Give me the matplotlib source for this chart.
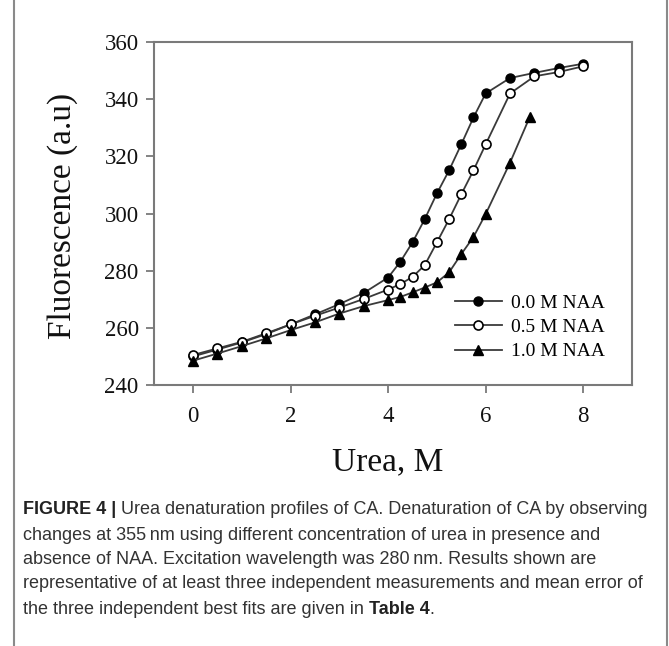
import matplotlib
matplotlib.use("Agg")
import matplotlib.pyplot as plt
from matplotlib.lines import Line2D

# ---- data ----
urea_0 = [0, 0.5, 1.0, 1.5, 2.0, 2.5, 3.0, 3.5, 4.0, 4.25, 4.5, 4.75, 5.0, 5.25, 5.5, 5.75, 6.0, 6.5, 7.0, 7.5, 8.0]
fl_0 = [250.0, 252.4, 254.9, 257.8, 261.2, 264.7, 268.3, 272.2, 277.6, 283.1, 289.9, 298.0, 307.0, 315.1, 324.2, 333.6, 342.0, 347.4, 349.2, 350.9, 352.4]

urea_05 = [0, 0.5, 1.0, 1.5, 2.0, 2.5, 3.0, 3.5, 4.0, 4.25, 4.5, 4.75, 5.0, 5.25, 5.5, 5.75, 6.0, 6.5, 7.0, 7.5, 8.0]
fl_05 = [250.5, 252.8, 255.1, 258.1, 261.2, 264.2, 267.1, 270.1, 273.4, 275.3, 277.8, 281.9, 289.9, 298.0, 306.7, 315.1, 324.2, 342.0, 348.0, 349.5, 351.5]

urea_10 = [0, 0.5, 1.0, 1.5, 2.0, 2.5, 3.0, 3.5, 4.0, 4.25, 4.5, 4.75, 5.0, 5.25, 5.5, 5.75, 6.0, 6.5, 6.9]
fl_10 = [248.5, 251.0, 253.6, 256.3, 259.2, 261.9, 265.0, 267.6, 269.7, 270.8, 272.4, 274.1, 275.9, 279.4, 285.8, 291.8, 299.8, 317.8, 333.6]

labels = ["0.0 M NAA", "0.5 M NAA", "1.0 M NAA"]
xticks = [0, 2, 4, 6, 8]
yticks = [240, 260, 280, 300, 320, 340, 360]
xlabel = "Urea, M"
ylabel = "Fluorescence (a.u)"
caption_bold = "FIGURE 4 |"
caption_lines = [
    " Urea denaturation profiles of CA. Denaturation of CA by observing",
    "changes at 355\u2009nm using different concentration of urea in presence and",
    "absence of NAA. Excitation wavelength was 280\u2009nm. Results shown are",
    "representative of at least three independent measurements and mean error of",
    "the three independent best fits are given in ",
]
caption_end_bold = "Table 4"

W, H = 669, 646
fig = plt.figure(figsize=(W / 100, H / 100), dpi=100)
serif = ["Liberation Serif", "DejaVu Serif"]
sans = ["Liberation Sans Narrow", "Liberation Sans", "DejaVu Sans"]

def fx(px):
    return px / W

def fy(py):
    return 1 - py / H

ax = fig.add_axes([fx(154), fy(385), fx(632) - fx(154), fy(42) - fy(385)])
line_c = "#3a3a3a"
ax.plot(urea_0, fl_0, color=line_c, lw=1.3, marker="o", ms=6.5, mfc="black", mec="black", mew=1.0, label=labels[0])
ax.plot(urea_05, fl_05, color=line_c, lw=1.3, marker="o", ms=6.5, mfc="white", mec="black", mew=1.2, label=labels[1])
ax.plot(urea_10, fl_10, color=line_c, lw=1.3, marker="^", ms=6.5, mfc="black", mec="black", mew=1.0, label=labels[2])

ax.set_xlim(-0.8, 9.0)
ax.set_ylim(240, 360)
ax.set_xticks(xticks)
ax.set_yticks(yticks)
spine_c = "#7a7a7a"
for s in ax.spines.values():
    s.set_color(spine_c)
    s.set_linewidth(1.5)
ax.tick_params(direction="out", length=6, width=1.3, color=spine_c, labelsize=16.5, pad=5)
for t in ax.get_xticklabels() + ax.get_yticklabels():
    t.set_family(serif)
    t.set_color("#111111")
ax.tick_params(axis="x", pad=9)

# x label centred under the middle tick (x = 4)
ax.text(4, 0, xlabel, transform=ax.get_xaxis_transform(), family=serif, fontsize=24,
        ha="center", va="center", color="#111111")
fig.canvas.draw()
for t in ax.texts:
    x_disp = t.get_window_extent().x0 + t.get_window_extent().width / 2
    t.set_transform(fig.transFigure)
    t.set_position((x_disp / W, fy(462)))

fig.text(fx(63), fy(216), ylabel, family=serif, fontsize=24, ha="center", va="center", rotation=90, color="#111111")

leg = ax.legend(loc="upper left", bbox_to_anchor=((455 - 154) / 478, (385 - 294) / 343),
                frameon=False, prop={"family": serif, "size": 14},
                handlelength=2.4, handletextpad=0.5, labelspacing=0.35, borderpad=0, borderaxespad=0)

# figure border lines
fig.add_artist(Line2D([fx(14), fx(14)], [0, 1], color="#8a8a8a", lw=1.5, transform=fig.transFigure))
fig.add_artist(Line2D([fx(667), fx(667)], [0, 1], color="#8a8a8a", lw=1.5, transform=fig.transFigure))

# caption
cap_y = [509, 535, 560, 584, 609]
cap_size = 13
t0 = fig.text(fx(23), fy(cap_y[0]), caption_bold, family=sans, fontsize=cap_size, fontweight="bold", va="center", color="#222222")
fig.canvas.draw()
bb = t0.get_window_extent()
fig.text(bb.x1 / W, fy(cap_y[0]), caption_lines[0], family=sans, fontsize=cap_size, va="center", color="#333333")
for i in range(1, 4):
    fig.text(fx(23), fy(cap_y[i]), caption_lines[i], family=sans, fontsize=cap_size, va="center", color="#333333")
t4 = fig.text(fx(23), fy(cap_y[4]), caption_lines[4], family=sans, fontsize=cap_size, va="center", color="#333333")
fig.canvas.draw()
bb4 = t4.get_window_extent()
t5 = fig.text(bb4.x1 / W, fy(cap_y[4]), caption_end_bold, family=sans, fontsize=cap_size, fontweight="bold", va="center", color="#222222")
fig.canvas.draw()
bb5 = t5.get_window_extent()
fig.text(bb5.x1 / W, fy(cap_y[4]), ".", family=sans, fontsize=cap_size, va="center", color="#333333")

fig.savefig("out.png", dpi=100)
